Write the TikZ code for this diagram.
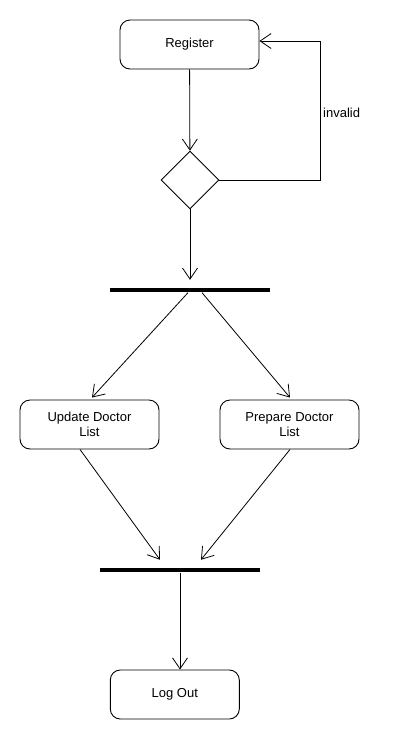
\documentclass[tikz,border=0pt]{standalone}
\usepackage{fontspec}
\setmainfont{Liberation Sans}
\usetikzlibrary{shapes.geometric,arrows.meta}
\begin{document}
\begin{tikzpicture}[x=1pt,y=-1pt,
  act/.style={draw, rounded corners=10pt, line width=0.9pt, minimum width=139pt, minimum height=49pt, inner sep=0pt, align=center, font=\fontsize{13}{15.5}\selectfont},
  dec/.style={draw, diamond, line width=0.9pt, minimum width=58pt, minimum height=58pt, inner sep=0pt},
  bar/.style={fill=black, minimum width=160pt, minimum height=4.5pt, inner sep=0pt},
  arr/.style={line width=0.8pt, -{Straight Barb[length=11pt,width=15pt,line width=0.8pt]}},
  lbl/.style={font=\fontsize{13}{15}\selectfont, inner sep=0pt}
]
\useasboundingbox (0,0) rectangle (400,740);
\node[act] (reg) at (189.5,44.5) {Register};
\node[dec] (dia) at (190,180) {};
\node[bar] (b1) at (190,290.2) {};
\node[act] (upd) at (89.5,424.5) {Update Doctor\\List};
\node[act] (pre) at (289.5,424.5) {Prepare Doctor\\List};
\node[bar] (b2) at (180,570.2) {};
\node[act, minimum width=129pt] (lo) at (174.8,694.5) {Log Out};
\coordinate (lp) at (320,41);
\node[lbl, anchor=west] (inv) at (323,113) {invalid};

\draw[arr] (reg) -- (dia);
\draw[arr] (dia.east) -| (lp) -- ([yshift=3.5pt]reg.east);
\draw[arr] (dia.south) -- ([yshift=8pt]b1.north);
\draw[arr] ([xshift=-2pt]b1.south) -- ([xshift=2.5pt,yshift=2pt]upd.north);
\draw[arr] ([xshift=12pt]b1.south) -- ([xshift=0.5pt,yshift=2pt]pre.north);
\draw[arr] ([xshift=-9.5pt]upd.south) -- ([xshift=-20pt,yshift=8pt]b2.north);
\draw[arr] ([xshift=0.5pt]pre.south) -- ([xshift=21pt,yshift=8pt]b2.north);
\draw[arr] (b2.south) -- (b2.south |- lo.north);
\end{tikzpicture}
\end{document}
